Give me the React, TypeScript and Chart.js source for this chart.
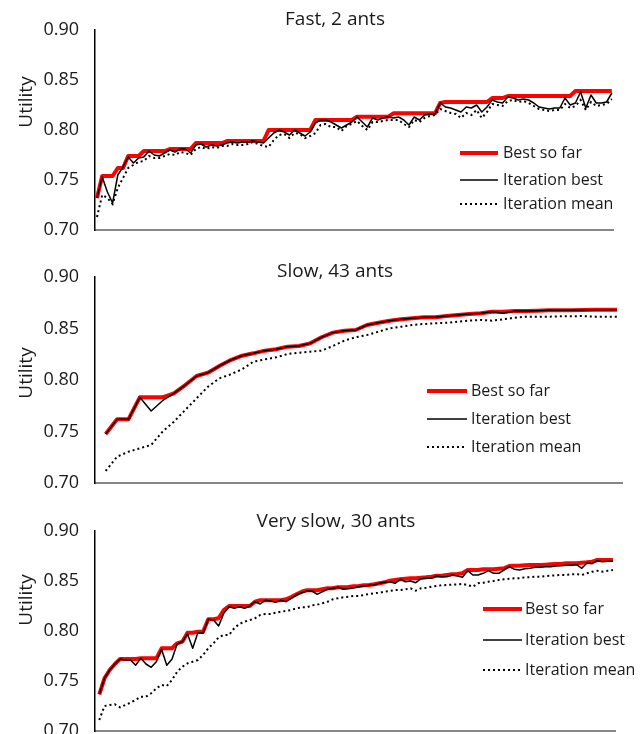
import React, { useEffect, useRef } from "react";
import { Chart, registerables } from "chart.js";

Chart.register(...registerables);

// ---------- data ----------
const SERIES_NAMES = ["Best so far", "Iteration best", "Iteration mean"];
const Y_TICKS = [0.7, 0.75, 0.8, 0.85, 0.9];

const fastIterations = Array.from({ length: 100 }, (_, i) => i + 1);
const fastBest = [
  0.732, 0.754, 0.754, 0.754, 0.762, 0.762, 0.774, 0.774, 0.774, 0.779,
  0.779, 0.779, 0.779, 0.779, 0.781, 0.781, 0.781, 0.781, 0.781, 0.787,
  0.787, 0.787, 0.787, 0.787, 0.787, 0.789, 0.789, 0.789, 0.789, 0.789,
  0.789, 0.789, 0.789, 0.8, 0.8, 0.8, 0.8, 0.8, 0.8, 0.8,
  0.8, 0.8, 0.81, 0.81, 0.81, 0.81, 0.81, 0.81, 0.81, 0.81,
  0.8133, 0.8133, 0.8133, 0.8133, 0.8133, 0.8133, 0.8133, 0.8167, 0.8167, 0.8167,
  0.8167, 0.8167, 0.8167, 0.8167, 0.8167, 0.8167, 0.827, 0.828, 0.828, 0.828,
  0.828, 0.828, 0.828, 0.828, 0.828, 0.828, 0.832, 0.832, 0.832, 0.834,
  0.834, 0.834, 0.834, 0.834, 0.834, 0.834, 0.834, 0.834, 0.834, 0.834,
  0.834, 0.834, 0.839, 0.839, 0.839, 0.839, 0.839, 0.839, 0.839, 0.839,
];
const fastIter = [
  0.732, 0.753, 0.738, 0.727, 0.755, 0.763, 0.773, 0.767, 0.772, 0.773,
  0.779, 0.775, 0.774, 0.777, 0.78, 0.778, 0.781, 0.781, 0.777, 0.785,
  0.786, 0.783, 0.785, 0.784, 0.785, 0.787, 0.788, 0.787, 0.788, 0.788,
  0.789, 0.788, 0.787, 0.792, 0.797, 0.8, 0.798, 0.795, 0.8, 0.797,
  0.794, 0.798, 0.807, 0.81, 0.81, 0.808, 0.805, 0.802, 0.805, 0.808,
  0.813, 0.808, 0.803, 0.812, 0.81, 0.812, 0.813, 0.812, 0.813, 0.81,
  0.805, 0.813, 0.81, 0.815, 0.816, 0.816, 0.827, 0.823, 0.822, 0.82,
  0.818, 0.823, 0.822, 0.825, 0.818, 0.823, 0.83, 0.828, 0.827, 0.833,
  0.832, 0.83, 0.831, 0.83, 0.827, 0.823, 0.822, 0.821, 0.822, 0.822,
  0.832, 0.825, 0.827, 0.838, 0.822, 0.835, 0.827, 0.827, 0.828, 0.837,
];
const fastMean = [
  0.713, 0.735, 0.732, 0.726, 0.742, 0.752, 0.762, 0.765, 0.768, 0.769,
  0.774, 0.772, 0.772, 0.774, 0.776, 0.775, 0.778, 0.777, 0.775, 0.781,
  0.783, 0.781, 0.783, 0.782, 0.784, 0.784, 0.786, 0.785, 0.785, 0.786,
  0.788, 0.786, 0.784, 0.783, 0.79, 0.795, 0.796, 0.792, 0.797, 0.796,
  0.792, 0.794, 0.797, 0.805, 0.806, 0.803, 0.803, 0.799, 0.804, 0.806,
  0.809, 0.804, 0.8, 0.808, 0.808, 0.809, 0.81, 0.81, 0.81, 0.806,
  0.803, 0.81, 0.808, 0.812, 0.814, 0.815, 0.821, 0.819, 0.817, 0.816,
  0.812, 0.817, 0.815, 0.82, 0.812, 0.818, 0.826, 0.825, 0.824, 0.829,
  0.83, 0.828, 0.829, 0.827, 0.824, 0.821, 0.82, 0.819, 0.82, 0.82,
  0.826, 0.822, 0.824, 0.83, 0.82, 0.828, 0.824, 0.825, 0.826, 0.831,
];

const slowIterations = Array.from({ length: 46 }, (_, i) => i + 1);
const slowBest = [
  0.7476, 0.7618, 0.7618, 0.7832, 0.7832, 0.7832, 0.7871, 0.7951, 0.8039, 0.8071,
  0.8136, 0.8194, 0.8236, 0.8259, 0.8285, 0.8298, 0.8324, 0.833, 0.8356, 0.8415,
  0.846, 0.8479, 0.8485, 0.8534, 0.8556, 0.8576, 0.8589, 0.8599, 0.8609, 0.8609,
  0.8621, 0.8631, 0.8641, 0.8648, 0.8663, 0.8663, 0.867, 0.867, 0.8673, 0.8676,
  0.8676, 0.8676, 0.868, 0.8683, 0.8683, 0.8683,
];
const slowIter = [
  0.7476, 0.7618, 0.7618, 0.7832, 0.7699, 0.7799, 0.7871, 0.7951, 0.8039, 0.8071,
  0.8136, 0.8194, 0.8236, 0.8259, 0.8285, 0.8298, 0.8324, 0.833, 0.8356, 0.8415,
  0.846, 0.8479, 0.8485, 0.8534, 0.8556, 0.8576, 0.8589, 0.8599, 0.8609, 0.8609,
  0.8621, 0.8631, 0.8641, 0.8648, 0.8663, 0.8648, 0.867, 0.867, 0.8673, 0.8676,
  0.8676, 0.8676, 0.868, 0.8683, 0.8683, 0.8683,
];
const slowMean = [
  0.7117, 0.7255, 0.7304, 0.7337, 0.7369, 0.7498, 0.7595, 0.7709, 0.7822, 0.7935,
  0.8016, 0.8055, 0.8104, 0.8178, 0.82, 0.822, 0.8252, 0.8265, 0.8275, 0.8285,
  0.833, 0.8382, 0.8415, 0.8437, 0.8469, 0.8501, 0.8517, 0.8534, 0.8544, 0.855,
  0.8556, 0.8566, 0.8576, 0.8583, 0.8576, 0.8589, 0.8605, 0.8615, 0.8615, 0.8615,
  0.8618, 0.8618, 0.8621, 0.8615, 0.8615, 0.8615,
];

const vslowIterations = Array.from({ length: 100 }, (_, i) => i + 1);
const vslowBest = [
  0.7367, 0.7527, 0.761, 0.767, 0.772, 0.772, 0.772, 0.772, 0.7727, 0.7727,
  0.7727, 0.7727, 0.7827, 0.7827, 0.7827, 0.7877, 0.7893, 0.7983, 0.7983, 0.7993,
  0.7993, 0.8117, 0.8117, 0.8127, 0.821, 0.825, 0.825, 0.825, 0.825, 0.825,
  0.8293, 0.8307, 0.8307, 0.8307, 0.8307, 0.8307, 0.8317, 0.834, 0.8367, 0.8393,
  0.8407, 0.8407, 0.8407, 0.8417, 0.8427, 0.8427, 0.8437, 0.8437, 0.844, 0.8447,
  0.845, 0.8457, 0.846, 0.8467, 0.8477, 0.8487, 0.8503, 0.851, 0.8517, 0.8523,
  0.8527, 0.8527, 0.8533, 0.8537, 0.8543, 0.8553, 0.8553, 0.856, 0.8567, 0.857,
  0.8577, 0.861, 0.861, 0.861, 0.8617, 0.8617, 0.8617, 0.8623, 0.8627, 0.865,
  0.8653, 0.8653, 0.8657, 0.866, 0.866, 0.866, 0.8663, 0.8667, 0.867, 0.867,
  0.8677, 0.8677, 0.8677, 0.8683, 0.8687, 0.8693, 0.871, 0.871, 0.871, 0.871,
];
const vslowIter = [
  0.7367, 0.7527, 0.761, 0.767, 0.772, 0.771, 0.771, 0.7657, 0.7727, 0.767,
  0.7637, 0.7693, 0.7817, 0.7657, 0.7717, 0.787, 0.7893, 0.797, 0.7827, 0.7983,
  0.7977, 0.8117, 0.811, 0.805, 0.8177, 0.8243, 0.8227, 0.8243, 0.8227, 0.825,
  0.8293, 0.827, 0.8307, 0.83, 0.8287, 0.8307, 0.8293, 0.8327, 0.836, 0.8383,
  0.84, 0.84, 0.8367, 0.8393, 0.8417, 0.8427, 0.8437, 0.8417, 0.8423, 0.843,
  0.8443, 0.845, 0.8457, 0.846, 0.8477, 0.8487, 0.8493, 0.8477, 0.8517, 0.8493,
  0.85, 0.8483, 0.8523, 0.8527, 0.8527, 0.855, 0.8543, 0.8543, 0.856, 0.855,
  0.8537, 0.8603, 0.856, 0.856, 0.8577, 0.8603, 0.8577, 0.8577, 0.861, 0.8643,
  0.8617, 0.861, 0.8623, 0.8627, 0.8637, 0.8637, 0.8643, 0.8643, 0.865, 0.8653,
  0.8657, 0.8657, 0.8663, 0.8627, 0.868, 0.8673, 0.8703, 0.8693, 0.8697, 0.8697,
];
const vslowMean = [
  0.711, 0.725, 0.726, 0.7267, 0.7237, 0.726, 0.7283, 0.731, 0.7343, 0.7343,
  0.7377, 0.7427, 0.746, 0.745, 0.751, 0.7593, 0.7643, 0.7677, 0.7693, 0.771,
  0.776, 0.7827, 0.7877, 0.7937, 0.796, 0.796, 0.8027, 0.807, 0.8093, 0.811,
  0.8127, 0.816, 0.817, 0.817, 0.8183, 0.8193, 0.82, 0.821, 0.8227, 0.8237,
  0.8237, 0.8257, 0.8263, 0.8277, 0.8293, 0.8317, 0.8327, 0.8337, 0.8343, 0.835,
  0.835, 0.836, 0.837, 0.8377, 0.8383, 0.8393, 0.84, 0.841, 0.841, 0.8417,
  0.8427, 0.8403, 0.8427, 0.8433, 0.8443, 0.845, 0.8457, 0.846, 0.8463, 0.8467,
  0.847, 0.846, 0.8443, 0.8477, 0.8483, 0.8493, 0.85, 0.851, 0.8517, 0.8523,
  0.8527, 0.8527, 0.8537, 0.8537, 0.8543, 0.8543, 0.855, 0.8553, 0.8557, 0.856,
  0.856, 0.8567, 0.857, 0.856, 0.8577, 0.8593, 0.8603, 0.8593, 0.8603, 0.861,
];

// ---------- styling ----------
const FONT = '"Open Sans", "Noto Sans", sans-serif';
const TEXT = "#1a1a1a";
const W = 644;

type PanelCfg = {
  title: string;
  labels: number[];
  best: number[];
  iter: number[];
  mean: number[];
  top: number;
  canvasH: number;
  area: { top: number; bottom: number; right: number; left: number };
  xMin: number;
  xMax: number;
  titleX: number;
  titleY: number;
  axisTitleY: number;
  legend: { x0: number; x1: number; textX: number; rows: number[] };
};

const PANELS: PanelCfg[] = [
  {
    title: "Fast, 2 ants",
    labels: fastIterations, best: fastBest, iter: fastIter, mean: fastMean,
    top: 0, canvasH: 252,
    area: { left: 95, top: 30, bottom: 230, right: 613 },
    xMin: 0.615, xMax: 100.23,
    titleX: 335, titleY: 20, axisTitleY: 102,
    legend: { x0: 460, x1: 498, textX: 503, rows: [153, 180, 204] },
  },
  {
    title: "Slow, 43 ants",
    labels: slowIterations, best: slowBest, iter: slowIter, mean: slowMean,
    top: 240, canvasH: 258,
    area: { left: 95, top: 37, bottom: 243, right: 622 },
    xMin: 0.058, xMax: 46.44,
    titleX: 335, titleY: 32, axisTitleY: 133,
    legend: { x0: 427, x1: 467, textX: 471, rows: [151, 179, 207] },
  },
  {
    title: "Very slow, 30 ants",
    labels: vslowIterations, best: vslowBest, iter: vslowIter, mean: vslowMean,
    top: 485, canvasH: 249,
    area: { left: 95, top: 46, bottom: 246, right: 615 },
    xMin: 0.17, xMax: 100.4,
    titleX: 336, titleY: 37, axisTitleY: 115,
    legend: { x0: 483, x1: 522, textX: 525, rows: [124, 155, 185] },
  },
];

function makeTextPlugin(p: PanelCfg) {
  return {
    id: "panelText",
    afterDraw(chart: any) {
      const ctx = chart.ctx as CanvasRenderingContext2D;
      ctx.save();
      ctx.fillStyle = TEXT;
      ctx.textBaseline = "middle";
      // title
      ctx.font = `19px ${FONT}`;
      ctx.textAlign = "center";
      ctx.fillText(p.title, p.titleX, p.titleY);
      // axis title
      ctx.save();
      ctx.translate(27, p.axisTitleY);
      ctx.rotate(-Math.PI / 2);
      ctx.fillText("Utility", 0, 0);
      ctx.restore();
      // legend
      ctx.font = `16px ${FONT}`;
      ctx.textAlign = "left";
      const ds = chart.data.datasets;
      p.legend.rows.forEach((y, i) => {
        const d = ds[i];
        ctx.save();
        ctx.strokeStyle = d.borderColor;
        ctx.lineWidth = d.borderWidth;
        ctx.setLineDash(d.borderDash || []);
        ctx.lineCap = "butt";
        ctx.beginPath();
        ctx.moveTo(p.legend.x0, y);
        ctx.lineTo(p.legend.x1, y);
        ctx.stroke();
        ctx.restore();
        ctx.fillText(d.label, p.legend.textX, y);
      });
      ctx.restore();
    },
  };
}

function Panel({ p }: { p: PanelCfg }) {
  const ref = useRef<HTMLCanvasElement | null>(null);
  useEffect(() => {
    if (!ref.current) return;
    const chart = new Chart(ref.current, {
      type: "line",
      data: {
        labels: p.labels,
        datasets: [
          {
            label: SERIES_NAMES[0], data: p.best, borderColor: "#ff0000", borderWidth: 4,
            pointRadius: 0, tension: 0, borderJoinStyle: "round", order: 3,
          },
          {
            label: SERIES_NAMES[1], data: p.iter, borderColor: "#000000", borderWidth: 1.5,
            pointRadius: 0, tension: 0, borderJoinStyle: "round", order: 2,
          },
          {
            label: SERIES_NAMES[2], data: p.mean, borderColor: "#000000", borderWidth: 2,
            borderDash: [2, 3], pointRadius: 0, tension: 0, order: 1,
          },
        ],
      } as any,
      options: {
        responsive: false,
        animation: false,
        events: [],
        layout: { padding: { left: 0, top: p.area.top, right: W - p.area.right, bottom: 0 } },
        plugins: { legend: { display: false }, title: { display: false }, tooltip: { enabled: false } },
        scales: {
          x: {
            type: "linear",
            min: p.xMin,
            max: p.xMax,
            grid: { display: false },
            ticks: { display: false },
            border: { display: true, color: "#868686", width: 2 },
            afterFit: (s: any) => {
              s.height = p.canvasH - p.area.bottom;
              s.paddingLeft = 0;
              s.paddingRight = 0;
            },
          },
          y: {
            type: "linear",
            min: Y_TICKS[0],
            max: Y_TICKS[Y_TICKS.length - 1],
            afterBuildTicks: (s: any) => {
              s.ticks = Y_TICKS.map((v) => ({ value: v }));
            },
            ticks: {
              padding: 8,
              color: TEXT,
              font: { family: FONT, size: 18, lineHeight: 1 },
              callback: (v: any) => Number(v).toFixed(2),
            },
            grid: { display: false },
            border: { display: true, color: "#000000", width: 1.5 },
            afterFit: (s: any) => {
              s.width = p.area.left;
              s.paddingTop = 0;
              s.paddingBottom = 0;
            },
          },
        },
      } as any,
      plugins: [makeTextPlugin(p)],
    });
    return () => chart.destroy();
  }, [p]);
  return (
    <canvas
      ref={ref}
      width={W}
      height={p.canvasH}
      style={{ position: "absolute", left: 0, top: p.top, width: W, height: p.canvasH, display: "block" }}
    />
  );
}

export default function App() {
  return (
    <div style={{ position: "absolute", left: 0, top: 0, width: W, height: 734, overflow: "hidden", background: "#ffffff" }}>
      {PANELS.map((p) => (
        <Panel key={p.title} p={p} />
      ))}
    </div>
  );
}
